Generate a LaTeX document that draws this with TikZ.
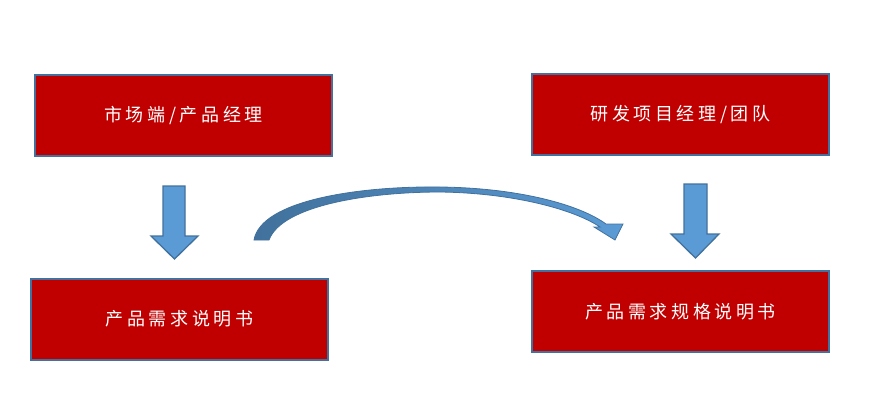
\documentclass[tikz,border=0pt]{standalone}
\usepackage{fontspec}
\newfontfamily\cjk[LetterSpace=20]{Noto Sans CJK SC}
\definecolor{boxred}{HTML}{C00000}
\definecolor{boxedge}{HTML}{41719C}
\definecolor{arrowfill}{HTML}{5B9BD5}
\definecolor{arrowdark}{HTML}{41719C}
\tikzset{
  redbox/.style={draw=boxedge, line width=2pt, fill=boxred, minimum width=297pt, minimum height=81pt, inner sep=0pt, text=white, font=\cjk\fontsize{18}{20}\selectfont},
  blockarrow/.style={fill=arrowfill, draw=boxedge, line width=1.3pt, line join=miter},
}
\begin{document}
\begin{tikzpicture}[x=1pt,y=-1pt]
\useasboundingbox (0,0) rectangle (876,410);
\node[redbox] (market) at (183.5,115) {市场端/产品经理};
\node[redbox] (rd) at (680.5,114.5) {研发项目经理/团队};
\node[redbox] (prd) at (179.5,319) {产品需求说明书};
\node[redbox] (spec) at (680.5,311.5) {产品需求规格说明书};
% down arrows
\draw[blockarrow] (163,186) -- (185,186) -- (185,236) -- (198,236) -- (174.5,259) -- (151,236) -- (163,236) -- cycle;
\draw[blockarrow] (684,184) -- (707,184) -- (707,234) -- (719,234) -- (695.5,258) -- (671,234) -- (684,234) -- cycle;
% curved arrow
\shade[left color=arrowdark, right color=arrowfill, draw=arrowdark, line width=0.8pt, line join=miter]
  (254,240) .. controls (261,200) and (360,186) .. (440,187)
  .. controls (520,188) and (580,205) .. (606,224)
  -- (623,224) -- (615,240) -- (594,227) -- (600,227)
  .. controls (575,210) and (515,193) .. (440,192)
  .. controls (370,192) and (282,205) .. (269,240) -- cycle;
\end{tikzpicture}
\end{document}
